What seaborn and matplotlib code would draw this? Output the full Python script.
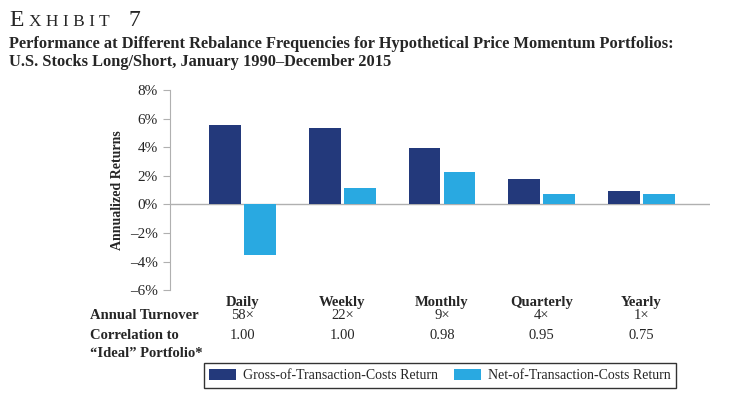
import pandas as pd
import matplotlib.pyplot as plt
import seaborn as sns
from matplotlib.patches import Patch
from matplotlib.transforms import blended_transform_factory

# chart data
frequencies = ['Daily', 'Weekly', 'Monthly', 'Quarterly', 'Yearly']
gross_returns = [5.55, 5.36, 3.92, 1.75, 0.93]
net_returns = [-3.55, 1.12, 2.26, 0.75, 0.72]
turnover = ['58×', '22×', '9×', '4×', '1×']
correlation = ['1.00', '1.00', '0.98', '0.95', '0.75']
series_names = ['Gross-of-Transaction-Costs Return', 'Net-of-Transaction-Costs Return']
y_ticks = [-6, -4, -2, 0, 2, 4, 6, 8]

colors = {series_names[0]: '#23397b', series_names[1]: '#29a9e1'}

df = pd.DataFrame({
    'Frequency': frequencies * 2,
    'Return': gross_returns + net_returns,
    'Series': [series_names[0]] * len(frequencies) + [series_names[1]] * len(frequencies),
})

sns.set_theme(style='white')
plt.rcParams['font.family'] = ['Liberation Serif', 'DejaVu Serif']

W, H = 746, 398
fig = plt.figure(figsize=(W / 100, H / 100), dpi=100)
ax = fig.add_axes([170 / W, 1 - 290.2 / H, (710 - 170) / W, (290.2 - 90) / H])

sns.barplot(data=df, x='Frequency', y='Return', hue='Series', order=frequencies,
            hue_order=series_names, palette=colors, width=0.704, gap=0.1,
            linewidth=0, saturation=1, ax=ax, legend=False)

ax.set_ylim(-6, 8)
ax.set_xlim(-0.73, 4.69)
ax.set_yticks(y_ticks)
ax.set_yticklabels([f'{v}%'.replace('-', '–') for v in y_ticks], fontsize=11)
ax.tick_params(axis='y', length=5, width=0.8, color='#b0b0b0', pad=4, left=True)
ax.set_xticks(range(len(frequencies)))
ax.set_xticklabels(frequencies, fontsize=10.5, fontweight='bold')
ax.tick_params(axis='x', length=0, pad=4)
ax.set_xlabel('')
ax.set_ylabel('Annualized Returns', fontsize=10, fontweight='bold', labelpad=4)
for side in ['top', 'right', 'bottom']:
    ax.spines[side].set_visible(False)
ax.spines['left'].set_color('#b0b0b0')
ax.spines['left'].set_linewidth(0.8)
ax.axhline(0, color='#b0b0b0', lw=1, zorder=0)

# table rows under the chart
tr = blended_transform_factory(ax.transData, fig.transFigure)
for i in range(len(frequencies)):
    fig.text(i, 1 - 315.7 / H, turnover[i], transform=tr, ha='center', va='center', fontsize=10.5)
    fig.text(i, 1 - 335.7 / H, correlation[i], transform=tr, ha='center', va='center', fontsize=10.5)
fig.text(90 / W, 1 - 315.7 / H, 'Annual Turnover', ha='left', va='center', fontsize=10.5, fontweight='bold')
fig.text(90 / W, 1 - 335.7 / H, 'Correlation to', ha='left', va='center', fontsize=10.5, fontweight='bold')
fig.text(90 / W, 1 - 353.5 / H, '“Ideal” Portfolio*', ha='left', va='center', fontsize=10.5, fontweight='bold')

# titles
fig.text(9 / W, 1 - 26 / H, 'E', fontsize=17, ha='left', va='baseline')
fig.text(29 / W, 1 - 26 / H, 'X H I B I T', fontsize=12.5, ha='left', va='baseline')
fig.text(129 / W, 1 - 26 / H, '7', fontsize=17, ha='left', va='baseline')
fig.text(9 / W, 1 - 48 / H,
         'Performance at Different Rebalance Frequencies for Hypothetical Price Momentum Portfolios:',
         fontsize=11.8, fontweight='bold', ha='left', va='baseline')
fig.text(9 / W, 1 - 65.5 / H, 'U.S. Stocks Long/Short, January 1990–December 2015',
         fontsize=11.8, fontweight='bold', ha='left', va='baseline')

handles = [Patch(facecolor=colors[s], edgecolor='none') for s in series_names]
leg = fig.legend(handles, series_names, loc='center', bbox_to_anchor=(440 / W, 1 - 375.5 / H),
                 ncol=2, frameon=True, fancybox=False, edgecolor='black', fontsize=10,
                 handlelength=1.9, handleheight=0.8, handletextpad=0.5, columnspacing=1.2,
                 borderpad=0.4)
leg.get_frame().set_linewidth(1)

fig.savefig('out.png', dpi=100)
